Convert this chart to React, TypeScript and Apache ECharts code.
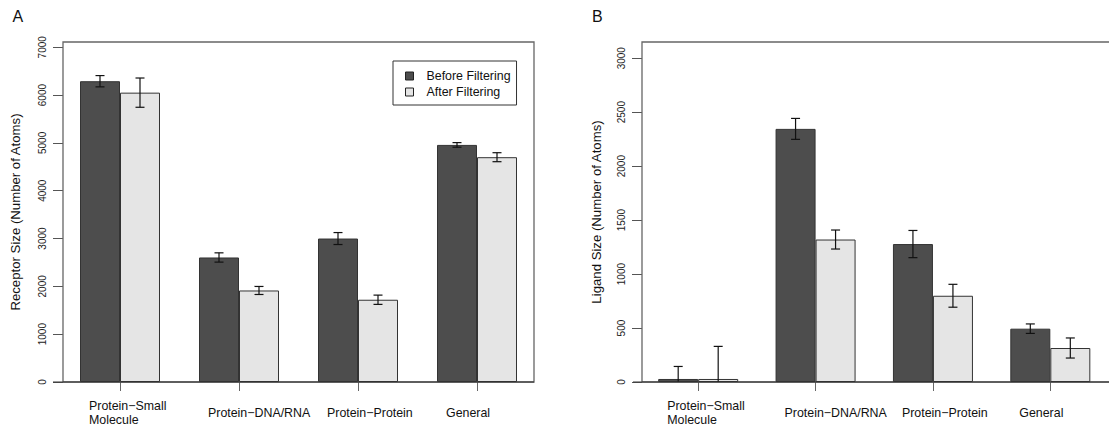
import React, { useEffect, useRef } from "react";
import * as echarts from "echarts";

const categories = ["Protein−Small\nMolecule", "Protein−DNA/RNA", "Protein−Protein", "General"];
const seriesNames = ["Before Filtering", "After Filtering"];

const receptorBefore = [6290, 2604, 3000, 4958];
const receptorBeforeErr = [118, 97, 125, 48];
const receptorAfter = [6051, 1914, 1720, 4701];
const receptorAfterErr = [306, 84, 97, 94];

const ligandBefore = [28, 2345, 1278, 494];
const ligandBeforeErr = [116, 97, 126, 44];
const ligandAfter = [28, 1320, 799, 315];
const ligandAfterErr = [302, 88, 106, 93];

const receptorTicks = [0, 1000, 2000, 3000, 4000, 5000, 6000, 7000];
const ligandTicks = [0, 500, 1000, 1500, 2000, 2500, 3000];

const FONT = "'Liberation Sans', Arial, Helvetica, sans-serif";
const DARK = "#4d4d4d";
const LIGHT = "#e5e5e5";
const BAR_W = 40;

function errorSeries(axisIndex: number, name: string, vals: number[], errs: number[], side: number) {
  return {
    type: "custom",
    name,
    xAxisIndex: axisIndex,
    yAxisIndex: axisIndex,
    z: 5,
    silent: true,
    clip: true,
    data: vals.map((v, i) => [i, v, errs[i]]),
    renderItem: (params: any, api: any) => {
      const i = api.value(0);
      const v = api.value(1);
      const e = api.value(2);
      const lowVal = Math.max(0, v - e);
      const top = api.coord([i, v + e]);
      const bot = api.coord([i, lowVal]);
      const x = top[0] + (side * BAR_W) / 2;
      const cap = 4.5;
      const style = { stroke: "#111", lineWidth: 1.2 };
      const children: any[] = [
        { type: "line", shape: { x1: x, y1: top[1], x2: x, y2: bot[1] }, style },
        { type: "line", shape: { x1: x - cap, y1: top[1], x2: x + cap, y2: top[1] }, style },
      ];
      if (v - e >= 0) {
        children.push({ type: "line", shape: { x1: x - cap, y1: bot[1], x2: x + cap, y2: bot[1] }, style });
      }
      return { type: "group", children };
    },
  };
}

function barSeries(axisIndex: number, name: string, vals: number[], color: string) {
  return {
    type: "bar",
    name,
    xAxisIndex: axisIndex,
    yAxisIndex: axisIndex,
    data: vals,
    barWidth: BAR_W,
    barGap: "0%",
    itemStyle: { color, borderColor: "#333", borderWidth: 1 },
    emphasis: { disabled: true },
  };
}

function xAxis(gridIndex: number) {
  return {
    type: "category",
    gridIndex,
    data: categories,
    axisLine: { show: false },
    axisTick: { show: true, alignWithLabel: true, length: 9, lineStyle: { color: "#666", width: 1 } },
    axisLabel: {
      interval: 0,
      align: "left",
      verticalAlign: "middle",
      margin: 31,
      padding: [0, 0, 0, -31],
      lineHeight: 14,
      fontSize: 12.4,
      fontFamily: FONT,
      color: "#111",
    },
    splitLine: { show: false },
  };
}

function yAxis(gridIndex: number, max: number, ticks: number[], name: string, nameGap: number) {
  return {
    type: "value",
    gridIndex,
    min: 0,
    max,
    offset: -2.5,
    axisLine: { show: false },
    splitLine: { show: false },
    axisTick: { show: true, length: 10, lineStyle: { color: "#555", width: 1 }, customValues: ticks },
    axisLabel: {
      customValues: ticks,
      formatter: (v: number) => String(v),
      rotate: 90,
      margin: 16,
      fontSize: 10,
      fontFamily: FONT,
      color: "#222",
    },
    name,
    nameLocation: "middle",
    nameRotate: 90,
    nameGap,
    nameTextStyle: { fontSize: 13.2, fontFamily: FONT, color: "#111" },
  };
}

export default function App() {
  const ref = useRef<HTMLDivElement>(null);
  useEffect(() => {
    document.body.style.margin = "0";
    if (!ref.current) return;
    const chart = echarts.init(ref.current, undefined, { renderer: "svg" });
    chart.setOption({
      animation: false,
      backgroundColor: "#ffffff",
      grid: [
        { left: 60.5, top: 42, width: 476, height: 340 },
        { left: 639.5, top: 42, width: 476, height: 340 },
      ],
      xAxis: [xAxis(0), xAxis(1)],
      yAxis: [
        yAxis(0, 7110, receptorTicks, "Receptor Size (Number of Atoms)", 41),
        yAxis(1, 3150, ligandTicks, "Ligand Size (Number of Atoms)", 39),
      ],
      legend: {
        data: seriesNames,
        left: 393,
        top: 61,
        orient: "vertical",
        padding: [7, 6, 5, 12],
        itemGap: 0,
        itemWidth: 8,
        itemHeight: 8,
        icon: "rect",
        borderColor: "#333",
        borderWidth: 1,
        selectedMode: false,
        itemStyle: { borderColor: "#222", borderWidth: 1 },
        textStyle: { fontSize: 12.4, fontFamily: FONT, color: "#111", lineHeight: 16, padding: [0, 0, 0, 8] },
      },
      graphic: [
        { type: "rect", shape: { x: 63, y: 42, width: 471, height: 340 }, style: { fill: "none", stroke: "#666", lineWidth: 1.3 }, z: 1, silent: true },
        { type: "rect", shape: { x: 642, y: 42, width: 471, height: 340 }, style: { fill: "none", stroke: "#666", lineWidth: 1.3 }, z: 1, silent: true },
        { type: "line", shape: { x1: 53, y1: 382, x2: 534, y2: 382 }, style: { stroke: "#333", lineWidth: 1.2 }, z: 10, silent: true },
        { type: "line", shape: { x1: 633, y1: 382, x2: 1113, y2: 382 }, style: { stroke: "#333", lineWidth: 1.2 }, z: 10, silent: true },
        { type: "text", x: 12.5, y: 16.4, style: { text: "A", fontSize: 16, fontFamily: FONT, fill: "#111", verticalAlign: "middle" }, silent: true },
        { type: "text", x: 592, y: 16.4, style: { text: "B", fontSize: 16, fontFamily: FONT, fill: "#111", verticalAlign: "middle" }, silent: true },
      ],
      series: [
        barSeries(0, seriesNames[0], receptorBefore, DARK),
        barSeries(0, seriesNames[1], receptorAfter, LIGHT),
        errorSeries(0, seriesNames[0], receptorBefore, receptorBeforeErr, -1),
        errorSeries(0, seriesNames[1], receptorAfter, receptorAfterErr, 1),
        barSeries(1, seriesNames[0], ligandBefore, DARK),
        barSeries(1, seriesNames[1], ligandAfter, LIGHT),
        errorSeries(1, seriesNames[0], ligandBefore, ligandBeforeErr, -1),
        errorSeries(1, seriesNames[1], ligandAfter, ligandAfterErr, 1),
      ],
    });
    return () => chart.dispose();
  }, []);
  return <div ref={ref} style={{ width: 1109, height: 429 }} />;
}
